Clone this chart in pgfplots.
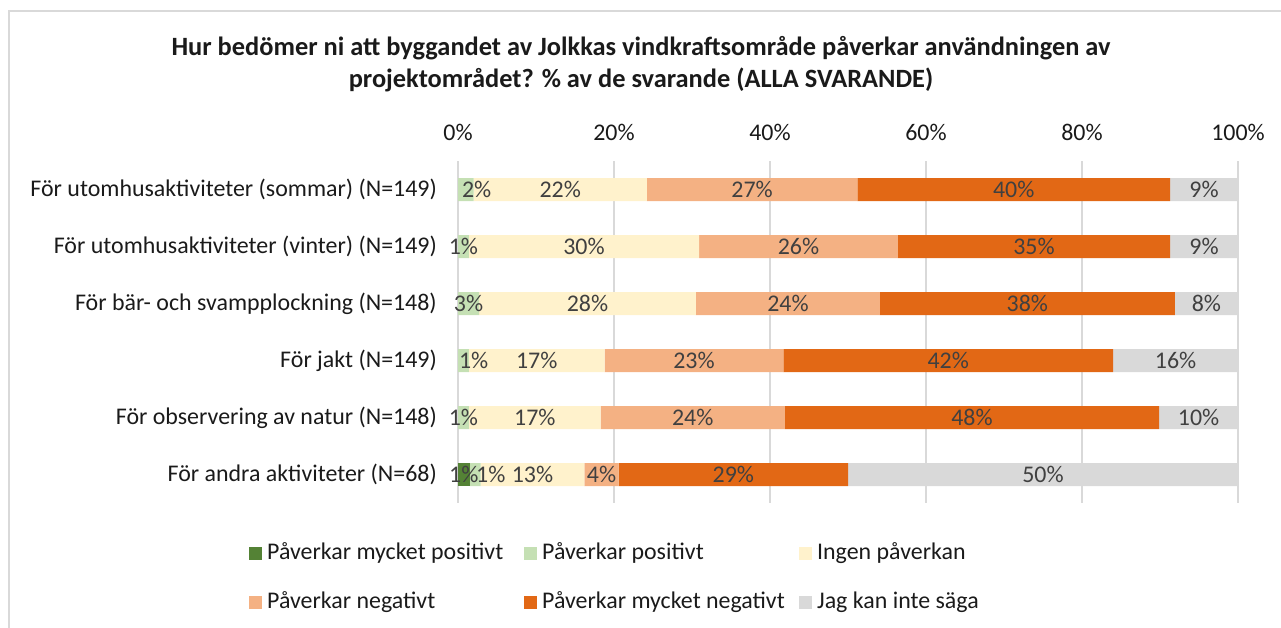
\documentclass[border=0pt]{standalone}
\usepackage{pgfplots}
\usepackage{pgfplotstable}
\pgfplotsset{compat=1.18}
\usepackage{fontspec}
\setmainfont{Carlito}
\definecolor{cDG}{HTML}{548235}
\definecolor{cLG}{HTML}{C5E0B4}
\definecolor{cCR}{HTML}{FFF2CC}
\definecolor{cPE}{HTML}{F4B183}
\definecolor{cOR}{HTML}{E26815}
\definecolor{cGR}{HTML}{D9D9D9}
\definecolor{cGrid}{HTML}{D9D9D9}
\definecolor{cLab}{HTML}{404040}
\definecolor{cTxt}{HTML}{1A1A1A}

\pgfplotstableread{
row s1 s2 s3 s4 s5 s6
0 0 2.0 22.2 27.0 40.1 8.7
1 0 1.4 29.5 25.5 34.9 8.7
2 0 2.7 27.8 23.6 37.8 8.1
3 0 1.4 17.4 22.9 42.3 16.0
4 0 1.4 16.9 23.6 48.0 10.1
5 1.5 1.4 13.3 4.4 29.4 50.0
}\bars

\pgfplotstableread{
x y lab
2.4 0 2
13.1 0 22
37.7 0 27
71.25 0 40
95.65 0 9
0.7 1 1
16.15 1 30
43.65 1 26
73.85 1 35
95.65 1 9
1.35 2 3
16.6 2 28
42.3 2 24
73.0 2 38
95.95 2 8
2.0 3 1
10.1 3 17
30.25 3 23
62.85 3 42
92.0 3 16
0.7 4 1
9.85 4 17
30.1 4 24
65.9 4 48
94.95 4 10
0.75 5 1
4.2 5 1
9.55 5 13
18.4 5 4
35.3 5 29
75 5 50
}\labels

\pgfplotsset{
  base/.style={
    at={(458bp,125bp)}, anchor=south west,
    width=780bp, height=342bp, scale only axis,
    xmin=0, xmax=100, ymin=-0.5, ymax=5.5, y dir=reverse,
  },
  mybar/.style={fill=#1, draw=none,
    legend image code/.code={\fill[fill=#1] (0bp,-6.5bp) rectangle (13bp,6.5bp);}},
}
\newcommand{\lbox}[1]{\makebox[262bp][l]{\hspace{5bp}#1}}

\begin{document}
\begin{tikzpicture}
\path[use as bounding box] (0,0) rectangle (1281bp,628bp);
\draw[cGR, line width=1.5bp] (9bp,0) -- (9bp,617bp) -- (1281bp,617bp);
\node[font=\bfseries\fontsize{26.5}{32}\selectfont, text=cTxt, align=center] at (641bp,564bp)
  {Hur bedömer ni att byggandet av Jolkkas vindkraftsområde påverkar användningen av\\
   projektområdet? \% av de svarande (ALLA SVARANDE)};
\begin{axis}[base,
  xbar stacked, bar width=23bp,
  xtick={0,20,40,60,80,100}, xticklabels={0\%,20\%,40\%,60\%,80\%,100\%},
  xticklabel pos=upper,
  ytick={0,1,2,3,4,5},
  yticklabels={För utomhusaktiviteter (sommar) (N=149),
               För utomhusaktiviteter (vinter) (N=149),
               För bär- och svampplockning (N=148),
               För jakt (N=149),
               För observering av natur (N=148),
               För andra aktiviteter (N=68)},
  axis line style={draw=none}, major tick length=0pt,
  xmajorgrids, ymajorgrids=false, grid style={draw=cGrid, line width=1.5bp},
  tick label style={font=\fontsize{24}{28}\selectfont, text=cTxt},
  xticklabel style={inner sep=0pt, yshift=20bp},
  yticklabel style={inner sep=0pt, xshift=-21bp},
  legend columns=3,
  legend style={at={(axis description cs:-0.268,-0.117)}, anchor=north west,
    draw=none, fill=none, inner sep=0pt, column sep=0pt, row sep=28bp,
    font=\fontsize{24}{28}\selectfont, text=cTxt,
    nodes={inner sep=0pt, text height=16bp, text depth=5bp}},
]
\addplot[mybar=cDG] table[x=s1,y=row]{\bars};
\addlegendentry{\lbox{Påverkar mycket positivt}}
\addplot[mybar=cLG] table[x=s2,y=row]{\bars};
\addlegendentry{\lbox{Påverkar positivt}}
\addplot[mybar=cCR] table[x=s3,y=row]{\bars};
\addlegendentry{\lbox{Ingen påverkan}}
\addplot[mybar=cPE] table[x=s4,y=row]{\bars};
\addlegendentry{\lbox{Påverkar negativt}}
\addplot[mybar=cOR] table[x=s5,y=row]{\bars};
\addlegendentry{\lbox{Påverkar mycket negativt}}
\addplot[mybar=cGR] table[x=s6,y=row]{\bars};
\addlegendentry{\lbox{Jag kan inte säga}}
\end{axis}
\begin{axis}[base, hide axis, clip=false]
\addplot[only marks, mark=*, mark size=0pt, mark options={draw=none, fill=none},
  point meta=explicit,
  nodes near coords={\pgfmathprintnumber[assume math mode=true]{\pgfplotspointmeta}\%},
  nodes near coords style={anchor=center, inner sep=0pt, text=cLab,
    font=\fontsize{24}{28}\selectfont}]
  table[x=x,y=y,meta=lab]{\labels};
\end{axis}
\end{tikzpicture}
\end{document}
